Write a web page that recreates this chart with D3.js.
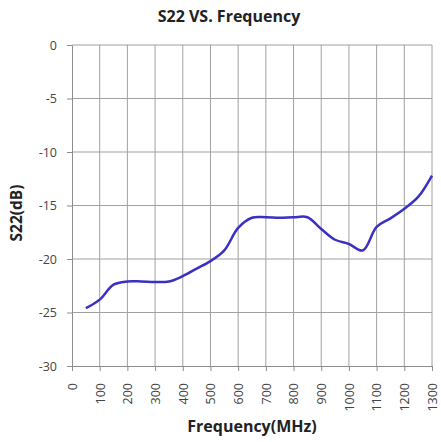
<!DOCTYPE html>
<html>
<head>
<meta charset="utf-8">
<script src="https://cdn.jsdelivr.net/npm/d3@7"></script>
<style>
  body { margin: 0; background: #fff; }
  text { font-family: "Open Sans", "Liberation Sans", sans-serif; }
</style>
</head>
<body>
<svg width="441" height="442"></svg>
<script>
// Data
var freqs = [50, 100, 150, 200, 250, 300, 350, 400, 450, 500, 550, 600, 650,
             700, 750, 800, 850, 900, 950, 1000, 1050, 1100, 1150, 1200, 1250, 1300];
var s22 = [-24.6, -23.8, -22.4, -22.1, -22.1, -22.15, -22.1, -21.6, -20.9, -20.2, -19.2, -17.1, -16.15,
           -16.1, -16.15, -16.1, -16.1, -17.2, -18.2, -18.6, -19.2, -17.0, -16.2, -15.3, -14.2, -12.2];
var xTicks = [0, 100, 200, 300, 400, 500, 600, 700, 800, 900, 1000, 1100, 1200, 1300];
var yTicks = [0, -5, -10, -15, -20, -25, -30];

var svg = d3.select("svg");
var mLeft = 72, mRight = 432, mTop = 45, mBottom = 366;

var x = d3.scaleLinear().domain([0, 1300]).range([mLeft, mRight]);
var y = d3.scaleLinear().domain([-30, 0]).range([mBottom, mTop]);

// Gridlines
svg.append("g").selectAll("line")
  .data(xTicks.slice(1))
  .enter().append("line")
  .attr("x1", function(d) { return x(d); })
  .attr("x2", function(d) { return x(d); })
  .attr("y1", mTop).attr("y2", mBottom)
  .attr("stroke", "#a0a0a0").attr("stroke-width", 1);

svg.append("g").selectAll("line")
  .data(yTicks.slice(0, -1))
  .enter().append("line")
  .attr("x1", mLeft).attr("x2", mRight)
  .attr("y1", function(d) { return y(d); })
  .attr("y2", function(d) { return y(d); })
  .attr("stroke", "#a0a0a0").attr("stroke-width", 1);

// Axes (plain hyphen minus like the original)
var fmt = function(d) { return String(d); };

var xAxis = svg.append("g")
  .attr("transform", "translate(0," + mBottom + ")")
  .call(d3.axisBottom(x).tickValues(xTicks).tickFormat(fmt).tickSize(5).tickSizeOuter(0));
xAxis.selectAll("text")
  .attr("transform", "rotate(-90)")
  .attr("text-anchor", "end")
  .attr("x", -17).attr("y", 0).attr("dy", "0.35em");

var yAxis = svg.append("g")
  .attr("transform", "translate(" + mLeft + ",0)")
  .call(d3.axisLeft(y).tickValues(yTicks).tickFormat(fmt).tickSize(5).tickSizeOuter(0));
yAxis.selectAll("text").attr("x", -15);

svg.selectAll(".domain, .tick line").attr("stroke", "#8c8c8c");
svg.selectAll(".tick text").attr("fill", "#444").style("font-size", "12.5px")
  .style("font-family", "'Open Sans', 'Liberation Sans', sans-serif");

// Line
var line = d3.line()
  .x(function(d, i) { return x(freqs[i]); })
  .y(function(d) { return y(d); })
  .curve(d3.curveCatmullRom.alpha(0.5));

svg.append("path")
  .datum(s22)
  .attr("d", line)
  .attr("fill", "none")
  .attr("stroke", "#3a30c4")
  .attr("stroke-width", 2.5)
  .attr("stroke-linejoin", "round");

// Titles
svg.append("text")
  .attr("x", 229).attr("y", 22)
  .attr("text-anchor", "middle")
  .style("font-size", "16px").style("font-weight", "bold")
  .attr("fill", "#222")
  .text("S22 VS. Frequency");

svg.append("text")
  .attr("transform", "translate(22,213) rotate(-90)")
  .attr("text-anchor", "middle")
  .style("font-size", "15.5px").style("font-weight", "bold")
  .attr("fill", "#222")
  .text("S22(dB)");

svg.append("text")
  .attr("x", 252).attr("y", 432)
  .attr("text-anchor", "middle")
  .style("font-size", "16px").style("font-weight", "bold")
  .attr("fill", "#222")
  .text("Frequency(MHz)");
</script>
</body>
</html>
